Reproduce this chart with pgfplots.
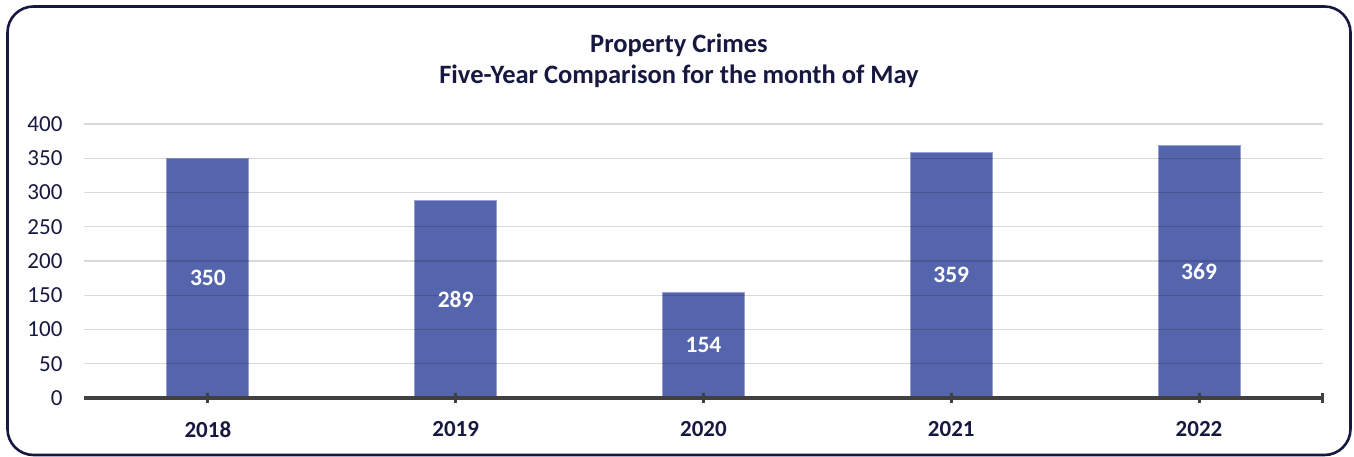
\documentclass[border=0pt]{standalone}
\usepackage{pgfplots}
\pgfplotsset{compat=1.18}
\usepackage{fontspec}
\setmainfont{Carlito}
\definecolor{navy}{RGB}{22,24,64}
\definecolor{barblue}{RGB}{85,101,173}
\definecolor{baredge}{RGB}{150,160,212}
\definecolor{axisgray}{RGB}{64,64,64}
\begin{document}
\begin{tikzpicture}[x=1pt,y=1pt]
\useasboundingbox (0,0) rectangle (1354,457);
\draw[navy, line width=2.6pt, rounded corners=26pt] (7.5,2) rectangle (1350.5,450.5);
\node[font=\fontsize{26.5}{31}\selectfont\bfseries, text=navy, align=center] at (679,396.5) {Property Crimes\\Five-Year Comparison for the month of May};
\begin{axis}[
  at={(84pt,59pt)}, anchor=south west,
  scale only axis, width=1239pt, height=274pt,
  xmin=-0.5, xmax=4.5, ymin=0, ymax=400,
  ybar, bar width=82pt,
  axis on top,
  xtick={0,1,2,3,4},
  xticklabels={2018,2019,2020,2021,2022},
  extra x ticks={4.5}, extra x tick labels={},
  ytick={0,50,...,400},
  axis x line*=bottom, axis y line*=left,
  x axis line style={axisgray, line width=4pt, -},
  y axis line style={draw=none},
  ytick style={draw=none},
  xtick style={axisgray, line width=3pt},
  major tick length=10pt, tick align=center,
  ymajorgrids, grid style={black, opacity=0.15, line width=1.2pt},
  /pgf/number format/assume math mode=true,
  tick label style={font=\fontsize{23}{25}\selectfont, text=navy},
  yticklabel style={xshift=-13pt},
  xticklabel style={font=\fontsize{23}{25}\selectfont\bfseries, yshift=-15pt},
  nodes near coords,
  visualization depends on={rawy \as \rawy},
  every node near coord/.append style={font=\fontsize{23.5}{25}\selectfont\bfseries, text=white, anchor=center, yshift={-0.3425pt*\rawy}},
]
\addplot[fill=barblue, draw=baredge, line width=1pt] coordinates {(0,350) (1,289) (2,154) (3,359) (4,369)};
\end{axis}
\end{tikzpicture}
\end{document}
